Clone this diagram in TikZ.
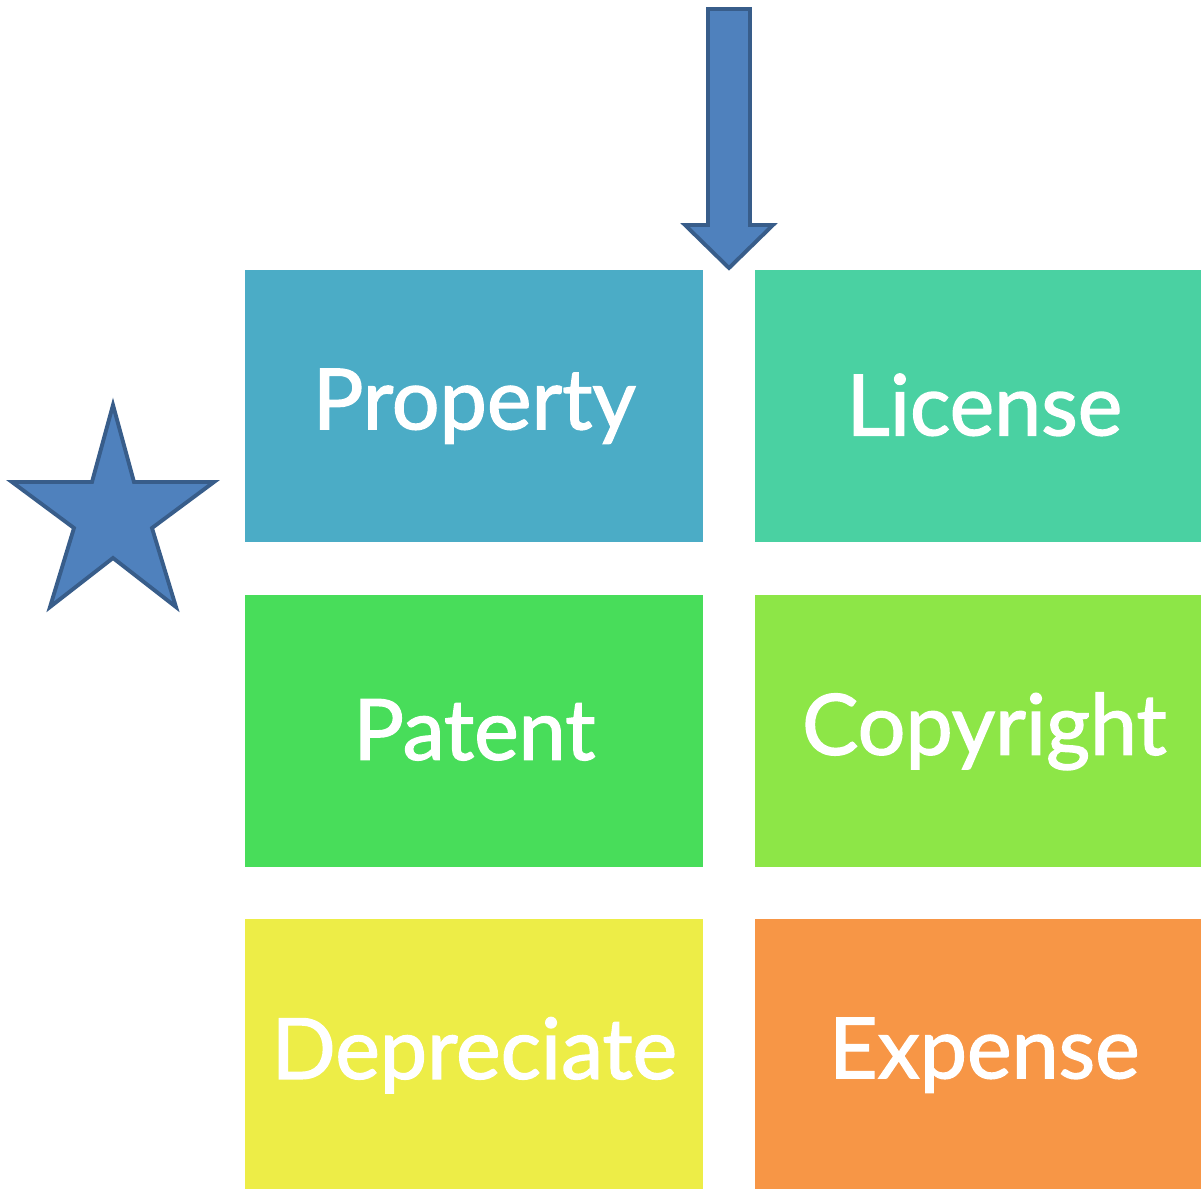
\documentclass[tikz,border=0pt]{standalone}
\usepackage{fontspec}
\setmainfont{Lato}
\newfontfamily\cellfont{Lato}[RawFeature={embolden=1.6}]
\definecolor{cProp}{RGB}{75,172,198}
\definecolor{cLic}{RGB}{74,209,162}
\definecolor{cPat}{RGB}{72,221,90}
\definecolor{cCopy}{RGB}{141,230,71}
\definecolor{cDep}{RGB}{237,237,71}
\definecolor{cExp}{RGB}{247,150,70}
\definecolor{shapeFill}{RGB}{79,129,189}
\definecolor{shapeLine}{RGB}{56,93,138}
\tikzset{
  cell/.style={rectangle, inner sep=0pt, minimum width=9.16cm, minimum height=5.44cm,
    text=white, font=\cellfont\fontsize{48}{54}\selectfont, anchor=north west},
  mark shape/.style={fill=shapeFill, draw=shapeLine, line width=2.2pt, line join=miter}
}
\begin{document}
\begin{tikzpicture}[x=0.02cm, y=-0.02cm]
\useasboundingbox (0,0) rectangle (1201,1189);
\clip (0,0) rectangle (1201,1189);
\node[cell, fill=cProp] (property) at (245,270) {\raisebox{2pt}{Property}};
\node[cell, fill=cLic] (license) at (755,270) {\raisebox{2pt}{License}};
\node[cell, fill=cPat] (patent) at (245,595) {\raisebox{2pt}{Patent}};
\node[cell, fill=cCopy] (copyright) at (755,595) {\raisebox{2pt}{Copyright}};
\node[cell, fill=cDep] (depreciate) at (245,919) {\raisebox{2pt}{Depreciate}};
\node[cell, fill=cExp] (expense) at (755,919) {\raisebox{2pt}{Expense}};
% arrow
\draw[mark shape] (708,9) -- (750,9) -- (750,225) -- (773,225) -- (729,268) -- (685,225) -- (708,225) -- cycle;
% star
\draw[mark shape] (113,405) -- (134,482) -- (214,482) -- (152,528) -- (176,607) -- (113,558) -- (50,607) -- (74,528) -- (12,482) -- (92,482) -- cycle;
\end{tikzpicture}
\end{document}
